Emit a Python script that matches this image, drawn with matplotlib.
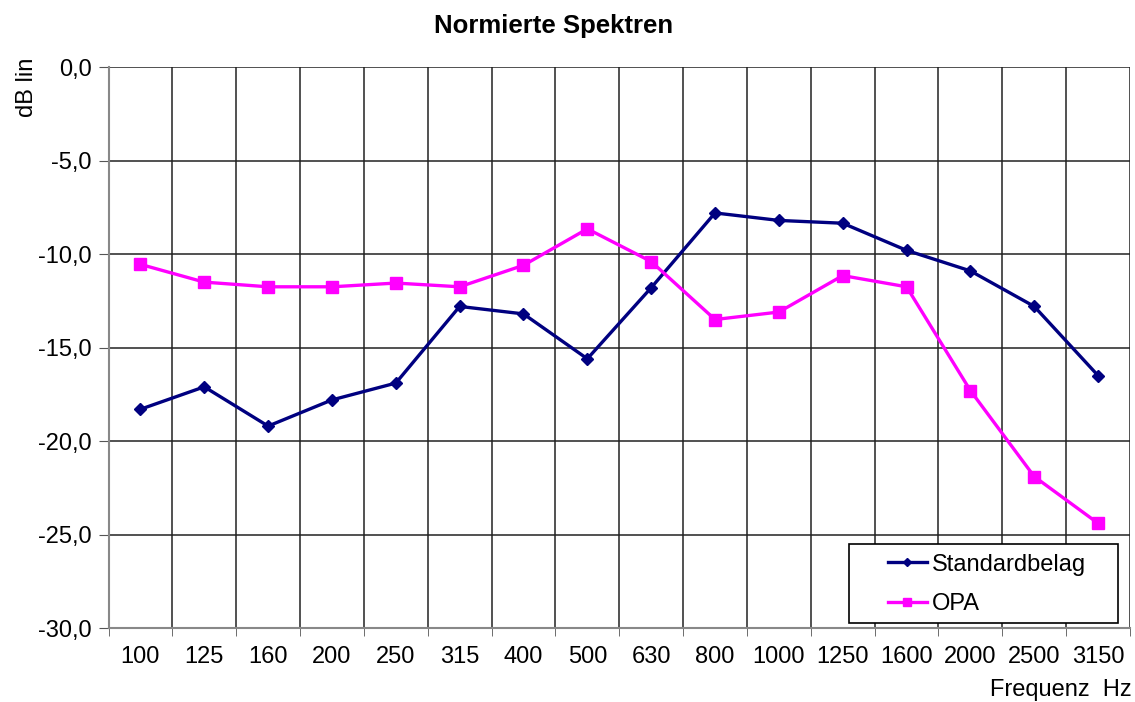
import numpy as np
import matplotlib
matplotlib.use('Agg')
import matplotlib.pyplot as plt
from matplotlib.ticker import FuncFormatter, MultipleLocator
from matplotlib.patches import Rectangle

plt.rcParams['font.family'] = ['Liberation Sans', 'DejaVu Sans']

# frequency bands (Hz)
freqs = ['100', '125', '160', '200', '250', '315', '400', '500', '630',
         '800', '1000', '1250', '1600', '2000', '2500', '3150']

# normalised spectra, dB lin
standardbelag = [-18.3, -17.1, -19.2, -17.8, -16.9, -12.8, -13.2, -15.6,
                 -11.8, -7.8, -8.2, -8.35, -9.8, -10.9, -12.8, -16.5]
opa = [-10.55, -11.5, -11.75, -11.75, -11.55, -11.75, -10.6, -8.65,
       -10.4, -13.5, -13.1, -11.15, -11.75, -17.3, -21.9, -24.4]

W, H = 1135, 702
fig = plt.figure(figsize=(W / 100, H / 100), dpi=100)
ax = fig.add_axes([0.0956, 0.1054, 0.9, 0.799])

x = np.arange(len(freqs))
ax.plot(x, standardbelag, color='#000080', lw=2.4, marker='D', ms=6,
        label='Standardbelag')
ax.plot(x, opa, color='#FF00FF', lw=2.4, marker='s', ms=8,
        label='OPA')

ax.set_xlim(-0.5, len(freqs) - 0.5)
ax.set_ylim(-30, 0)

ax.set_xticks(x)
ax.set_xticklabels(freqs)
ax.set_xticks(np.arange(-0.5, len(freqs)), minor=True)
ax.tick_params(axis='x', which='major', length=0, pad=13, labelsize=17)
ax.tick_params(axis='x', which='minor', length=6, color='#555555')

ax.yaxis.set_major_locator(MultipleLocator(5))
ax.yaxis.set_major_formatter(FuncFormatter(lambda v, p: ('%.1f' % v).replace('.', ',')))
ax.tick_params(axis='y', length=7, color='#555555', labelsize=17, pad=5)

ax.grid(True, which='minor', axis='x', color='#222222', lw=1.1)
ax.grid(True, which='major', axis='y', color='#222222', lw=1.1)
ax.set_axisbelow(True)
for s in ['top', 'right']:
    ax.spines[s].set_visible(False)
for s in ['left', 'bottom']:
    ax.spines[s].set_color('#888888')
    ax.spines[s].set_linewidth(1.5)

# legend box (pixel layout)
ax_l, ax_b, ax_w, ax_h = 108.5, 628, 1021.5, 561
def ax_frac(px, py):
    return (px - ax_l) / ax_w, (ax_b - py) / ax_h

bx0, by0 = ax_frac(849, 623)
bx1, by1 = ax_frac(1118, 544)
ax.add_patch(Rectangle((bx0, by0), bx1 - bx0, by1 - by0, transform=ax.transAxes,
                       facecolor='white', edgecolor='black', lw=1.2, zorder=4))
lx, ly = ax_frac(888, 584.5)
leg = ax.legend(loc='center left', bbox_to_anchor=(lx, ly), fontsize=17,
                frameon=False, handlelength=1.65, handletextpad=0.2,
                borderpad=0, labelspacing=0.75, borderaxespad=0,
                markerscale=0.7)
leg.set_zorder(5)

fig.text(554 / W, 1 - 26 / H, 'Normierte Spektren', ha='center',
         va='center', fontsize=18.5, fontweight='bold')
fig.text(27 / W, 1 - 58 / H, 'dB lin', rotation=90, ha='center',
         va='top', fontsize=17)
fig.text(1132 / W, 1 - 690 / H, 'Frequenz  Hz', ha='right',
         va='center', fontsize=17)

fig.savefig('out.png', dpi=100)
